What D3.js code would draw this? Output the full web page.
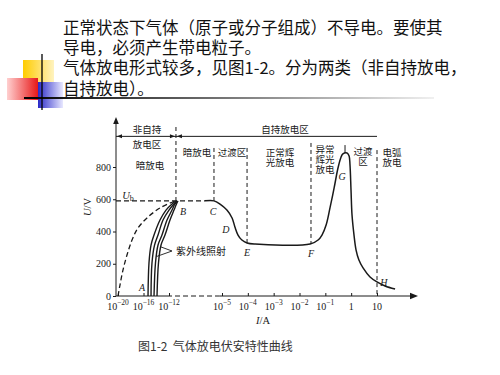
<!DOCTYPE html>
<html>
<head>
<meta charset="utf-8">
<script src="https://cdn.jsdelivr.net/npm/d3@7"></script>
<style>
  body { margin: 0; background: #fff; }
  svg { display: block; }
</style>
</head>
<body>
<div id="chart"></div>
<script>
// slide text
var introLines = [
    '正常状态下气体（原子或分子组成）不导电。要使其',
    '导电，必须产生带电粒子。',
    '气体放电形式较多，见图1-2。分为两类（非自持放电，',
    '自持放电）。'
];
var caption = '图1-2  气体放电伏安特性曲线';

// axes (x is log10 of current in A)
var yTicks = [0, 200, 400, 600, 800];
var xTickExp = [-20, -16, -12, -5, -4, -3, -2, -1, 0, 1];
var xTickBase = ['10', '10', '10', '10', '10', '10', '10', '10', '1', '10'];
var xTickSup = ['−20', '−16', '−12', '−5', '−4', '−3', '−2', '−1', '', ''];
var Ub = 590;

// main V-I curve: [log10 I, U]
var mainCurve = [
    [-7.25, 590], [-6.06, 590], [-5.26, 570], [-4.81, 533], [-4.61, 484],
    [-4.50, 428], [-4.38, 378], [-4.23, 347], [-4.03, 329], [-3.72, 322],
    [-1.59, 322], [-1.28, 347], [-1.13, 378], [-0.97, 440], [-0.82, 546],
    [-0.66, 670], [-0.51, 794], [-0.39, 862], [-0.32, 881], [-0.16, 887],
    [-0.08, 868], [-0.045, 812], [-0.006, 657], [0.033, 502], [0.11, 378],
    [0.19, 285], [0.30, 223], [0.46, 174], [0.73, 118], [1.0, 87],
    [1.31, 62], [1.70, 43]
];

// dark discharge without irradiation (dashed)
var darkCurve = [
    [-20, 0], [-19.69, 68], [-19.22, 161], [-18.59, 254], [-17.8, 347],
    [-16.86, 422], [-15.45, 484], [-13.41, 546], [-11.21, 589]
];

// curves with UV irradiation
var uvU = [0, 205, 316, 378, 471, 533, 571, 589];
var uvCurves = [
    [-15.29, -15.14, -14.82, -14.35, -13.41, -12.47, -11.60, -11.08],
    [-14.82, -14.67, -14.27, -13.72, -12.94, -12.00, -11.34, -10.94],
    [-14.35, -14.12, -13.72, -13.10, -12.31, -11.60, -11.21, -10.88],
    [-13.88, -13.65, -13.25, -12.63, -11.87, -11.34, -11.01, -10.81]
];

// region boundaries (dashed verticals)
var boundExp = [-11.08, -6.06, -4.03, -1.555, 1];
var boundTop = [1048, 918, 918, 949, 905];
var boundBottom = [590, 590, 322, 322, 0];
var headerU = 990;

var pointNames = ['A', 'B', 'C', 'D', 'E', 'F', 'G', 'H'];
var pointExp = [-16.23, -10.15, -6.19, -4.85, -4.03, -1.555, -0.355, 1.27];
var pointU = [56, 527, 527, 415, 273, 267, 744, 87];

var regionText = [
    ['非自持'], ['放电区'], ['自持放电区'], ['暗放电'], ['暗放电'], ['过渡区'],
    ['正常辉', '光放电'], ['异常', '辉光', '放电'], ['过渡', '区'], ['电弧', '放电']
];
var regionExp = [-15.45, -15.45, -2.56, -14.98, -8.30, -4.61, -2.755, -1.01, 0.459, 1.58];
var regionU = [1029, 936, 1029, 806, 887, 887, 887, 905, 895, 887];

var xScale = d3.scaleLinear().domain([-20, -12, -5, 1]).range([118, 169, 222, 377]);
var yScale = d3.scaleLinear().domain([0, 800]).range([296, 167]);

var svg = d3.select('#chart').append('svg')
    .attr('width', 500)
    .attr('height', 375);

var defs = svg.append('defs');
function grad(id, c1, c2) {
    var g = defs.append('linearGradient').attr('id', id);
    g.append('stop').attr('offset', '0%').attr('stop-color', c1);
    g.append('stop').attr('offset', '100%').attr('stop-color', c2);
}
grad('gYellow', '#ffcc00', '#fff3c0');
grad('gRed', '#ffd0d0', '#e81818');
grad('gBlue', '#2a2ac8', '#e8e8ff');
grad('gLine', '#000', '#f0f0f0');

// corner decoration
svg.append('rect').attr('x', 23).attr('y', 60).attr('width', 31).attr('height', 22).attr('fill', 'url(#gYellow)');
svg.append('rect').attr('x', 38).attr('y', 82).attr('width', 25).attr('height', 26).attr('fill', 'url(#gBlue)');
svg.append('rect').attr('x', 7).attr('y', 78).attr('width', 31).attr('height', 22).attr('fill', 'url(#gRed)');
svg.append('rect').attr('x', 24).attr('y', 97).attr('width', 410).attr('height', 2).attr('fill', 'url(#gLine)');
svg.append('line').attr('x1', 42).attr('x2', 42).attr('y1', 54).attr('y2', 110)
    .attr('stroke', '#000').attr('stroke-width', 1.3);

svg.append('g').selectAll('text')
    .data(introLines)
    .enter().append('text')
    .attr('x', 63)
    .attr('y', function(d, i) { return 34 + i * 20.2; })
    .attr('font-family', 'Noto Sans CJK SC')
    .attr('font-size', 16.5)
    .attr('fill', '#111')
    .text(function(d) { return d; });

svg.append('text')
    .attr('x', 138)
    .attr('y', 351)
    .attr('font-family', 'Noto Sans CJK SC')
    .attr('font-size', 12)
    .attr('fill', '#333')
    .attr('xml:space', 'preserve')
    .text(caption);

var ink = '#1a1a1a';
var chart = svg.append('g');

function arrow(x, y, dir, size) {
    var s = size || 6, w = s * 0.4, pts;
    if (dir == 'up') pts = [[x, y], [x - w, y + s], [x + w, y + s]];
    else if (dir == 'right') pts = [[x, y], [x - s, y - w], [x - s, y + w]];
    else pts = [[x, y], [x + s, y - w], [x + s, y + w]];
    chart.append('path').attr('d', 'M' + pts.join('L') + 'Z').attr('fill', ink);
}

// Y-axis
var x0 = 116;
chart.append('line').attr('x1', x0).attr('x2', x0).attr('y1', yScale(0)).attr('y2', 121)
    .attr('stroke', ink).attr('stroke-width', 1);
arrow(x0, 117, 'up', 7);
var yAxis = chart.append('g')
    .attr('transform', 'translate(' + x0 + ',0)')
    .call(d3.axisLeft(yScale).tickValues(yTicks).tickSize(3).tickPadding(2));
yAxis.select('.domain').remove();
yAxis.selectAll('line').attr('stroke', ink);
yAxis.selectAll('text').attr('font-family', 'Liberation Serif').attr('font-size', 10).attr('fill', ink);

chart.append('text')
    .attr('transform', 'translate(91,207) rotate(-90)')
    .attr('text-anchor', 'middle')
    .attr('font-family', 'Liberation Serif')
    .attr('font-size', 10.5)
    .attr('fill', ink)
    .call(function(t) {
        t.append('tspan').attr('font-style', 'italic').text('U');
        t.append('tspan').text('/V');
    });

// X-axis with break
var yAx = yScale(0);
var brk = [-11.6, -5.3];
chart.append('line').attr('x1', x0).attr('x2', xScale(brk[0])).attr('y1', yAx).attr('y2', yAx)
    .attr('stroke', ink).attr('stroke-width', 1);
chart.append('line').attr('x1', xScale(brk[0]) + 3).attr('x2', xScale(brk[1])).attr('y1', yAx).attr('y2', yAx)
    .attr('stroke', ink).attr('stroke-width', 1).attr('stroke-dasharray', '5,3');
chart.append('line').attr('x1', xScale(brk[1])).attr('x2', 412).attr('y1', yAx).attr('y2', yAx)
    .attr('stroke', ink).attr('stroke-width', 1);
arrow(418, yAx, 'right', 8);

var xAxis = chart.append('g')
    .attr('transform', 'translate(0,' + yAx + ')')
    .call(d3.axisBottom(xScale).tickValues(xTickExp).tickSize(-3).tickFormat(''));
xAxis.select('.domain').remove();
xAxis.selectAll('line').attr('stroke', ink);

chart.append('g').selectAll('text')
    .data(xTickExp)
    .enter().append('text')
    .attr('x', function(d) { return xScale(d); })
    .attr('y', yAx + 14)
    .attr('text-anchor', 'middle')
    .attr('font-family', 'Liberation Serif')
    .attr('font-size', 10)
    .attr('fill', ink)
    .each(function(d, i) {
        var t = d3.select(this);
        t.append('tspan').text(xTickBase[i]);
        if (xTickSup[i]) t.append('tspan').attr('dy', -5).attr('font-size', 7.5).text(xTickSup[i]);
    });

chart.append('text')
    .attr('x', 263)
    .attr('y', 324)
    .attr('text-anchor', 'middle')
    .attr('font-family', 'Liberation Serif')
    .attr('font-size', 10.5)
    .attr('fill', ink)
    .call(function(t) {
        t.append('tspan').attr('font-style', 'italic').text('I');
        t.append('tspan').text('/A');
    });

// header line for regions
var yHead = yScale(headerU);
chart.append('line').attr('x1', x0).attr('x2', xScale(1)).attr('y1', yHead).attr('y2', yHead)
    .attr('stroke', ink).attr('stroke-width', 1);
arrow(x0 + 1, yHead, 'left', 5);
arrow(xScale(boundExp[0]) - 1, yHead, 'right', 5);
arrow(xScale(boundExp[0]) + 1, yHead, 'left', 5);

// region boundaries
chart.append('g').selectAll('line')
    .data(boundExp)
    .enter().append('line')
    .attr('x1', function(d) { return xScale(d); })
    .attr('x2', function(d) { return xScale(d); })
    .attr('y1', function(d, i) { return yScale(boundTop[i]); })
    .attr('y2', function(d, i) { return yScale(boundBottom[i]); })
    .attr('stroke', ink).attr('stroke-width', 1)
    .attr('stroke-dasharray', '4,3');

// peak marker
chart.append('line')
    .attr('x1', xScale(-0.238)).attr('x2', xScale(-0.238))
    .attr('y1', yScale(936)).attr('y2', yScale(887))
    .attr('stroke', ink).attr('stroke-width', 1);

// breakdown voltage line
chart.append('line')
    .attr('x1', x0).attr('x2', xScale(mainCurve[0][0]))
    .attr('y1', yScale(Ub)).attr('y2', yScale(Ub))
    .attr('stroke', ink).attr('stroke-width', 1.3)
    .attr('stroke-dasharray', '5,3');

var line = d3.line()
    .x(function(d) { return xScale(d[0]); })
    .y(function(d) { return yScale(d[1]); })
    .curve(d3.curveCatmullRom.alpha(0.5));

chart.append('path').datum(mainCurve).attr('d', line)
    .attr('fill', 'none').attr('stroke', ink).attr('stroke-width', 1.5);

chart.append('path').datum(darkCurve).attr('d', line)
    .attr('fill', 'none').attr('stroke', ink).attr('stroke-width', 1.3)
    .attr('stroke-dasharray', '5,3');

chart.append('g').selectAll('path')
    .data(uvCurves)
    .enter().append('path')
    .attr('d', function(c) { return line(c.map(function(v, i) { return [v, uvU[i]]; })); })
    .attr('fill', 'none').attr('stroke', ink).attr('stroke-width', 1.4);

// UV annotation
var apex = [xScale(-11.6), yScale(279)];
[[-13.25, 304], [-13.95, 245]].forEach(function(p) {
    chart.append('line')
        .attr('x1', apex[0]).attr('y1', apex[1])
        .attr('x2', xScale(p[0])).attr('y2', yScale(p[1]))
        .attr('stroke', ink).attr('stroke-width', 0.9);
});
chart.append('text')
    .attr('x', apex[0] + 4)
    .attr('y', apex[1] + 4)
    .attr('font-family', 'Noto Sans CJK SC')
    .attr('font-size', 10)
    .attr('fill', ink)
    .text('紫外线照射');

// Ub label
chart.append('text')
    .attr('x', xScale(-18.43))
    .attr('y', yScale(626) + 4)
    .attr('text-anchor', 'middle')
    .attr('font-family', 'Liberation Serif')
    .attr('font-size', 10.5)
    .attr('fill', ink)
    .call(function(t) {
        t.append('tspan').attr('font-style', 'italic').text('U');
        t.append('tspan').attr('dy', 2).attr('font-size', 8).text('b');
    });

// point labels
chart.append('g').selectAll('text')
    .data(pointNames)
    .enter().append('text')
    .attr('x', function(d, i) { return xScale(pointExp[i]); })
    .attr('y', function(d, i) { return yScale(pointU[i]) + 4; })
    .attr('text-anchor', 'middle')
    .attr('font-family', 'Liberation Serif')
    .attr('font-style', 'italic')
    .attr('font-size', 10)
    .attr('fill', ink)
    .text(function(d) { return d; });

// region labels: one text element per line
regionText.forEach(function(lines, i) {
    var cx = xScale(regionExp[i]);
    var cy = yScale(regionU[i]) + 3.2;
    lines.forEach(function(s, j) {
        chart.append('text')
            .attr('x', cx)
            .attr('y', cy + j * 10)
            .attr('text-anchor', 'middle')
            .attr('font-family', 'Noto Sans CJK SC')
            .attr('font-size', 9.5)
            .attr('fill', ink)
            .text(s);
    });
});
</script>
</body>
</html>
